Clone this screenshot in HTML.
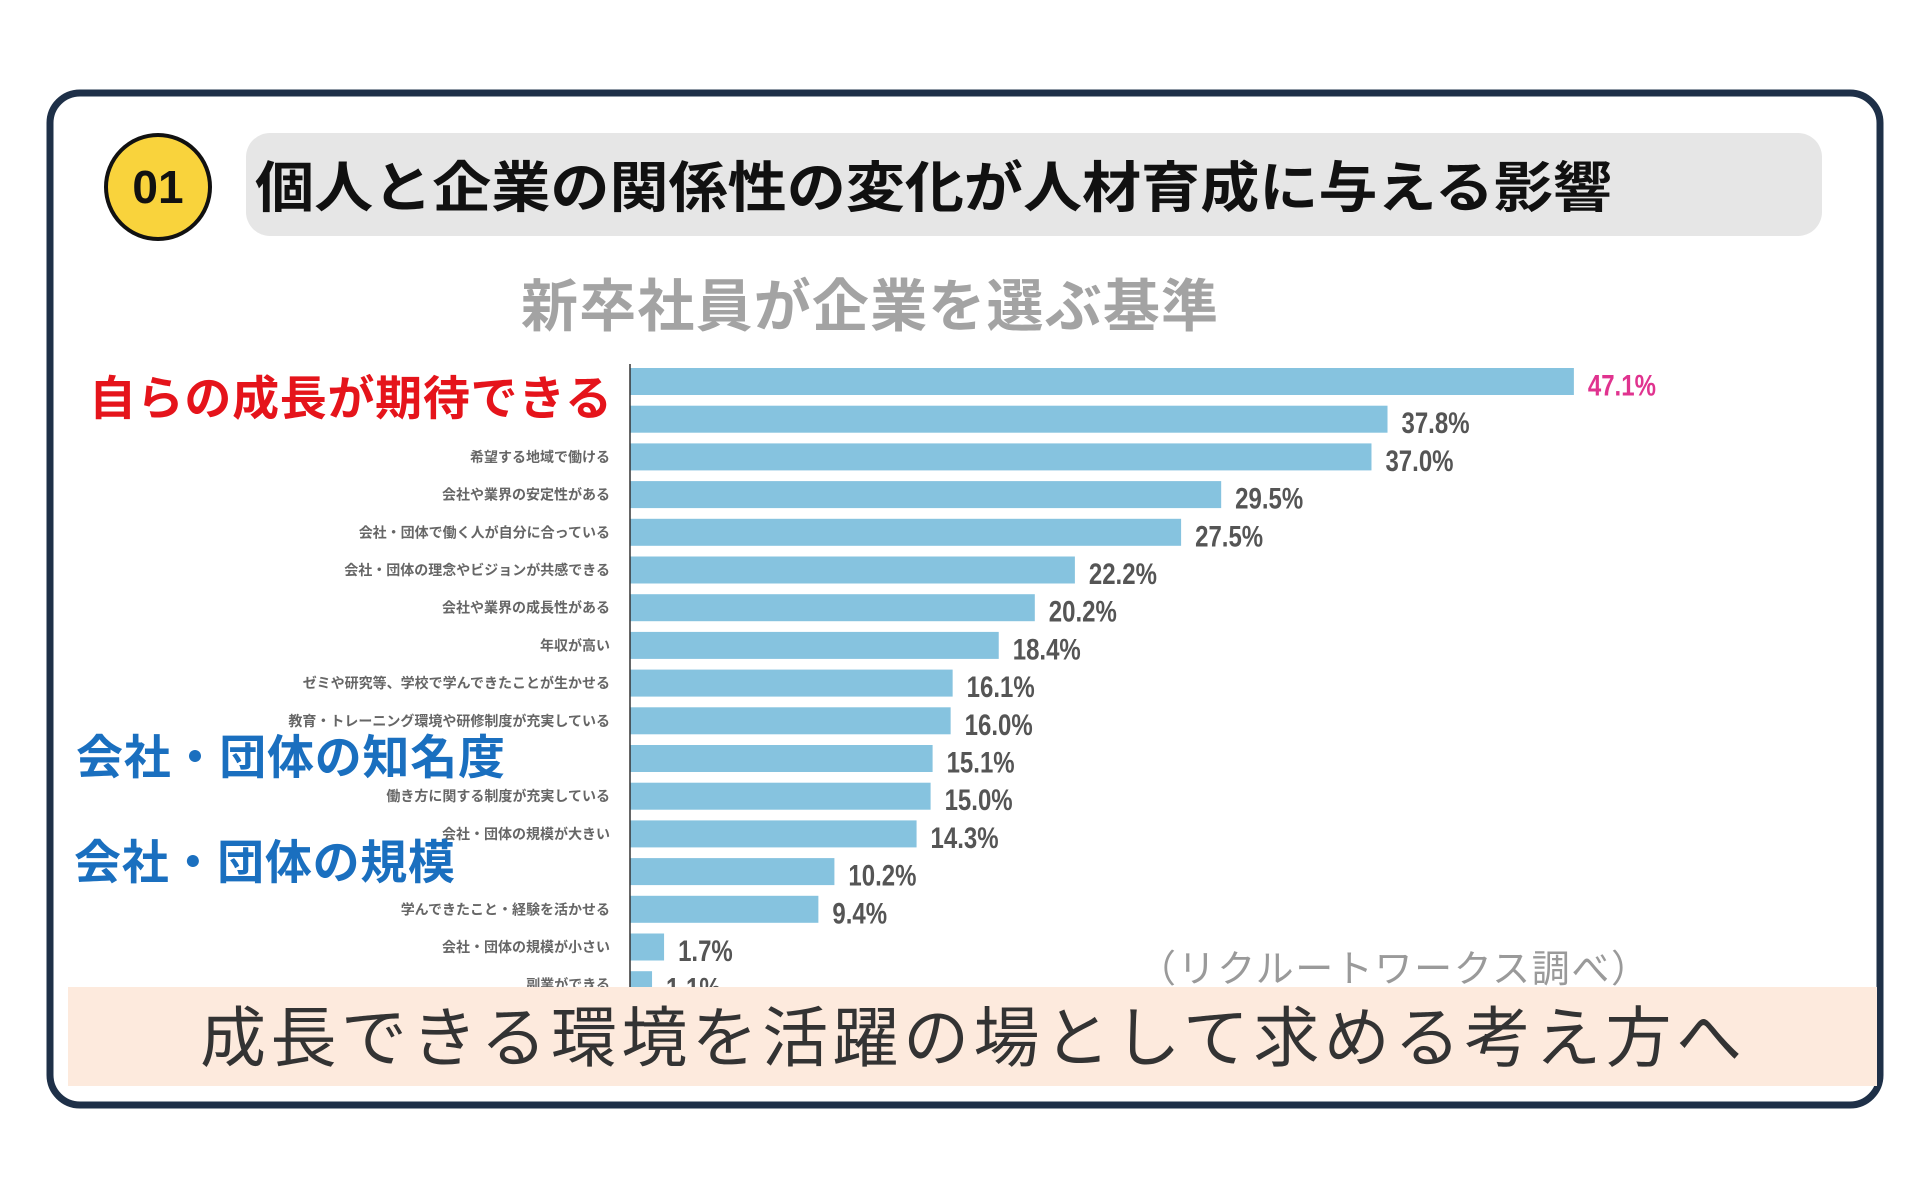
<!DOCTYPE html>
<html><head><meta charset="utf-8"><style>
html,body{margin:0;padding:0;background:#fff;}
body{width:1920px;height:1197px;overflow:hidden;position:relative;font-family:"Liberation Sans","Noto Sans CJK JP",sans-serif;}
</style></head><body>
<svg id="chart" width="1920" height="1197" viewBox="0 0 1920 1197" xmlns="http://www.w3.org/2000/svg" style="position:absolute;left:0;top:0">
<rect x="50" y="93" width="1830" height="1012" rx="30" fill="#fff" stroke="#1e3048" stroke-width="7"/>
<circle cx="158" cy="187" r="52" fill="#f9d33c" stroke="#111" stroke-width="4"/>
<text x="158" y="203" text-anchor="middle" font-size="46" font-weight="bold" fill="#111" font-family="Liberation Sans, sans-serif">01</text>
<rect x="246" y="133" width="1576" height="103" rx="24" fill="#e6e6e6"/>
<text x="255" y="207" font-size="55" font-weight="bold" fill="#111" textLength="1357" lengthAdjust="spacingAndGlyphs" font-family="Liberation Sans, Noto Sans CJK JP, sans-serif">個人と企業の関係性の変化が人材育成に与える影響</text>
<text x="521" y="326" font-size="57" font-weight="bold" fill="#a3a3a3" textLength="697" font-family="Liberation Sans, Noto Sans CJK JP, sans-serif">新卒社員が企業を選ぶ基準</text>
<g id="bars"></g>
<line x1="630" y1="364" x2="630" y2="990" stroke="#333" stroke-width="1.5"/>
<text x="89" y="415" font-size="47" font-weight="bold" fill="#e5141b" textLength="523" font-family="Liberation Sans, Noto Sans CJK JP, sans-serif">自らの成長が期待できる</text>
<text x="76" y="774" font-size="47" font-weight="bold" fill="#1a6fbf" textLength="429" font-family="Liberation Sans, Noto Sans CJK JP, sans-serif">会社・団体の知名度</text>
<text x="74" y="879" font-size="47" font-weight="bold" fill="#1a6fbf" textLength="381" font-family="Liberation Sans, Noto Sans CJK JP, sans-serif">会社・団体の規模</text>
<text x="1138" y="982" font-size="38" fill="#9a9a9a" textLength="511" font-family="Liberation Sans, Noto Sans CJK JP, sans-serif">（リクルートワークス調べ）</text>
<rect x="68" y="987" width="1809" height="99" fill="#fdeadd"/>
<text x="200" y="1061" font-size="66" fill="#333" textLength="1542" font-family="Liberation Sans, Noto Sans CJK JP, sans-serif">成長できる環境を活躍の場として求める考え方へ</text>
</svg>
<script>
const categories = ["自らの成長が期待できる","","希望する地域で働ける","会社や業界の安定性がある","会社・団体で働く人が自分に合っている","会社・団体の理念やビジョンが共感できる","会社や業界の成長性がある","年収が高い","ゼミや研究等、学校で学んできたことが生かせる","教育・トレーニング環境や研修制度が充実している","","働き方に関する制度が充実している","会社・団体の規模が大きい","","学んできたこと・経験を活かせる","会社・団体の規模が小さい","副業ができる"];
const values = [47.1,37.8,37.0,29.5,27.5,22.2,20.2,18.4,16.1,16.0,15.1,15.0,14.3,10.2,9.4,1.7,1.1];
const valueLabels = ["47.1%","37.8%","37.0%","29.5%","27.5%","22.2%","20.2%","18.4%","16.1%","16.0%","15.1%","15.0%","14.3%","10.2%","9.4%","1.7%","1.1%"];
const NS="http://www.w3.org/2000/svg";
const x0=630, pxPer=20.04, yTop=381.5, step=37.7, bh=27;
function xScale(v){return x0+v*pxPer;}
function yScale(i){return yTop+i*step;}
const g=document.getElementById('bars');
values.forEach((v,i)=>{
  const r=document.createElementNS(NS,'rect');
  
  
  r.setAttribute('x',x0);r.setAttribute('y',yScale(i)-bh/2);
  r.setAttribute('width',xScale(v)-x0);r.setAttribute('height',bh);
  r.setAttribute('fill','#86c3df');
  g.appendChild(r);
  const t=document.createElementNS(NS,'text');
  
  
  t.setAttribute('x',xScale(v)+14);t.setAttribute('y',yScale(i)+14);
  t.setAttribute('font-size','30');
  t.setAttribute('font-weight','bold');
  t.setAttribute('fill',i===0?'#e0338f':'#555');
  t.setAttribute('font-family','Liberation Sans Narrow, Liberation Sans, sans-serif');
  t.setAttribute('transform','translate('+(xScale(v)+14)+' 0) scale(0.8 1) translate('+(-(xScale(v)+14))+' 0)');
  t.textContent=valueLabels[i];
  g.appendChild(t);
  if(categories[i] && i!==0){
    const c=document.createElementNS(NS,'text');
    
    
    c.setAttribute('x',610);c.setAttribute('y',yScale(i)+5);
    c.setAttribute('text-anchor','end');
    c.setAttribute('font-size','14');
    c.setAttribute('font-weight','bold');
    c.setAttribute('fill','#666');
    c.setAttribute('font-family','Liberation Sans, Noto Sans CJK JP, sans-serif');
    c.textContent=categories[i];
    g.appendChild(c);
  }
});
</script>
</body></html>
